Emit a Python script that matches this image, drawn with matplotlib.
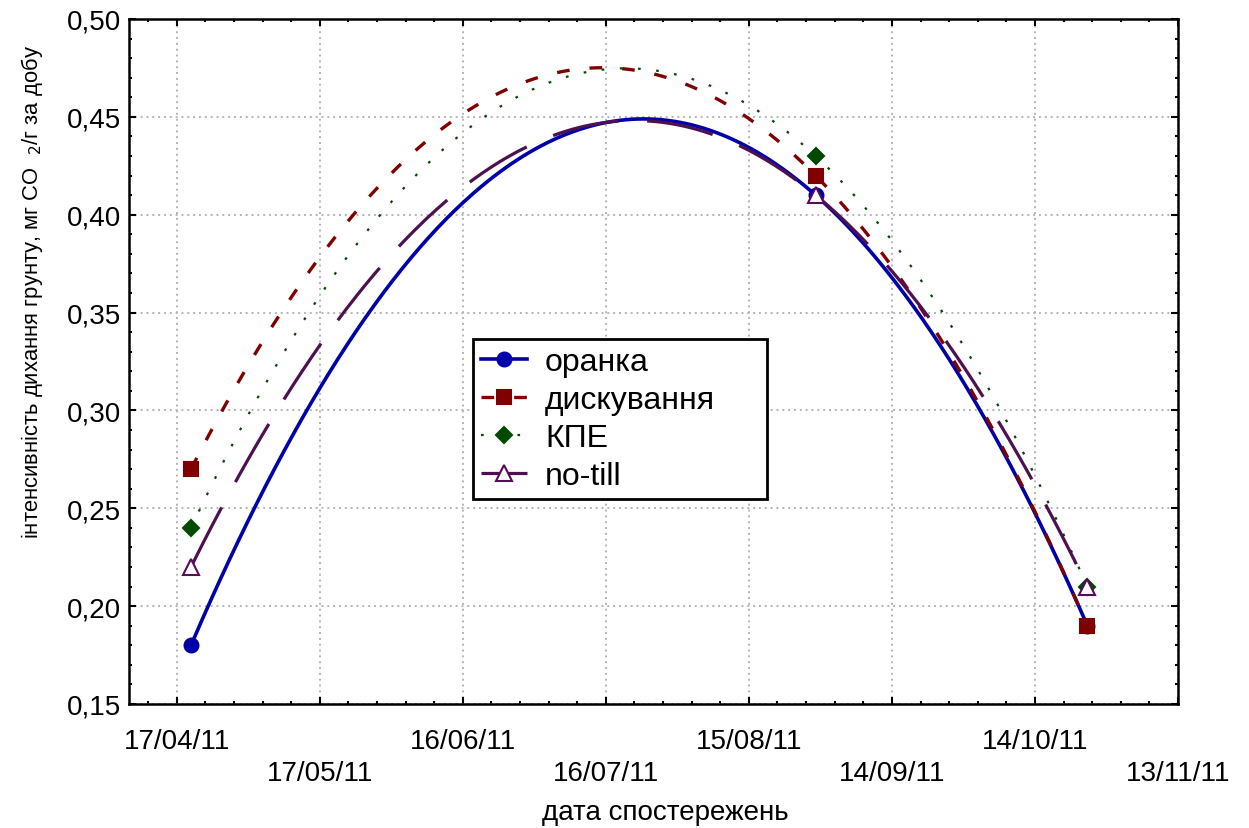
import numpy as np
import matplotlib
matplotlib.use('Agg')
import matplotlib.pyplot as plt
import matplotlib.dates as mdates
from matplotlib.ticker import FixedLocator, FuncFormatter

# observation dates and measured soil respiration (mg CO2 / g per day)
dates = np.array(['2011-04-20', '2011-08-29', '2011-10-25'], dtype='datetime64[D]')
oranka = [0.18, 0.41, 0.19]
dyskuvannia = [0.27, 0.42, 0.19]
kpe = [0.24, 0.43, 0.21]
notill = [0.22, 0.41, 0.21]

names = ['оранка', 'дискування', 'КПЕ', 'no-till']

tick_dates = np.array(['2011-04-17', '2011-05-17', '2011-06-16', '2011-07-16',
                       '2011-08-15', '2011-09-14', '2011-10-14', '2011-11-13'],
                      dtype='datetime64[D]')
tick_labels = ['17/04/11', '17/05/11', '16/06/11', '16/07/11',
               '15/08/11', '14/09/11', '14/10/11', '13/11/11']
yticks = [0.15, 0.20, 0.25, 0.30, 0.35, 0.40, 0.45, 0.50]

plt.rcParams['font.family'] = ['Liberation Sans', 'DejaVu Sans']

fig = plt.figure(figsize=(12.49, 8.29), dpi=100)
ax = fig.add_axes([129/1249, 1 - 705/829, 1049/1249, 685/829])

x = mdates.date2num(dates)
xs = np.linspace(x[0], x[-1], 300)

styles = [
    dict(color='#0000aa', lw=2.6, ls='-', marker='o', ms=10, mfc='#0000aa', mec='#0000aa'),
    dict(color='#800000', lw=2.4, ls=(0, (3.8, 6)), marker='s', ms=10, mfc='#800000', mec='#800000'),
    dict(color='#004a00', lw=1.6, ls=(0, (1.2, 7)), marker='D', ms=8.5, mfc='#004a00', mec='#004a00'),
    dict(color='#4e1050', lw=2.3, ls=(0, (21, 9)), marker='^', ms=11, mfc='white', mec='#5a0a5a'),
]

for vals, name, st in zip([oranka, dyskuvannia, kpe, notill], names, styles):
    # quadratic trend through the three observations
    coef = np.polyfit(x - x[0], vals, 2)
    ys = np.polyval(coef, xs - x[0])
    ax.plot(xs, ys, color=st['color'], lw=st['lw'], ls=st['ls'], zorder=2)
    ax.plot(x, vals, ls='none', marker=st['marker'], ms=st['ms'],
            mfc=st['mfc'], mec=st['mec'], mew=1.5, zorder=3)
    # legend proxy
    ax.plot([], [], color=st['color'], lw=st['lw'], ls=st['ls'], marker=st['marker'],
            ms=st['ms'], mfc=st['mfc'], mec=st['mec'], mew=1.5, label=name)

ax.set_xlim(mdates.date2num(np.datetime64('2011-04-07')), mdates.date2num(np.datetime64('2011-11-13')))
ax.set_ylim(0.15, 0.50)

tnum = mdates.date2num(tick_dates)
ax.set_xticks(tnum, labels=[l if i % 2 == 0 else '\n' + l for i, l in enumerate(tick_labels)])
minor = np.arange(tnum[0] - 6, tnum[-1] + 1, 6)
ax.xaxis.set_minor_locator(FixedLocator(minor))
ax.set_yticks(yticks)
ax.yaxis.set_minor_locator(FixedLocator(np.arange(0.15, 0.5001, 0.01)))
ax.yaxis.set_major_formatter(FuncFormatter(lambda v, p: f'{v:.2f}'.replace('.', ',')))

for lab in ax.get_xticklabels():
    lab.set_linespacing(1.28)

ax.tick_params(which='both', direction='in', top=True, right=True, width=1.5, color='black')
ax.tick_params(which='major', length=5, labelsize=20)
ax.tick_params(axis='x', which='major', pad=17.5)
ax.tick_params(axis='y', which='major', pad=6)
ax.tick_params(which='minor', length=2.5)

for s in ax.spines.values():
    s.set_linewidth(1.8)

ax.grid(True, which='major', color='#b4b4b4', lw=1.4, ls=(0, (1, 2)))
ax.set_axisbelow(True)

ax.set_xlabel('дата спостережень', fontsize=20, va='center')
ax.xaxis.set_label_coords(0.511, -0.158)
ax.set_ylabel('інтенсивність дихання грунту, мг CO  $_2$/г за добу', fontsize=15.8, va='center',
              family=['Liberation Sans Narrow', 'Liberation Sans'])
ax.yaxis.set_label_coords(-0.0925, 0.603)

leg = ax.legend(loc='upper left', bbox_to_anchor=(0.328, 0.304, 0.28, 0.229), mode='expand',
                fontsize=23, frameon=True, fancybox=False, framealpha=1, edgecolor='black',
                handlelength=1.45, handletextpad=0.55, labelspacing=0.25,
                borderpad=0.25, borderaxespad=0, numpoints=1)
leg.get_frame().set_linewidth(2)

fig.savefig('out.png', dpi=100)
